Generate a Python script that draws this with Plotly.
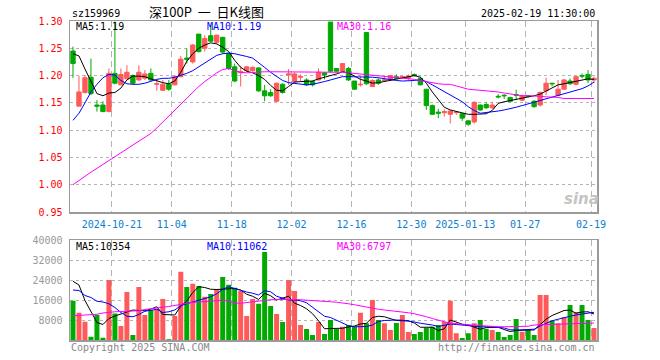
import plotly.graph_objects as go

# ---------------- data ----------------
dates = [
    "2024-10-10", "2024-10-11", "2024-10-14", "2024-10-15", "2024-10-16", "2024-10-17", "2024-10-18",
    "2024-10-21", "2024-10-22", "2024-10-23", "2024-10-24", "2024-10-25", "2024-10-28", "2024-10-29",
    "2024-10-30", "2024-10-31", "2024-11-01", "2024-11-04", "2024-11-05", "2024-11-06", "2024-11-07",
    "2024-11-08", "2024-11-11", "2024-11-12", "2024-11-13", "2024-11-14", "2024-11-15", "2024-11-18",
    "2024-11-19", "2024-11-20", "2024-11-21", "2024-11-22", "2024-11-25", "2024-11-26", "2024-11-27",
    "2024-11-28", "2024-11-29", "2024-12-02", "2024-12-03", "2024-12-04", "2024-12-05", "2024-12-06",
    "2024-12-09", "2024-12-10", "2024-12-11", "2024-12-12", "2024-12-13", "2024-12-16", "2024-12-17",
    "2024-12-18", "2024-12-19", "2024-12-20", "2024-12-23", "2024-12-24", "2024-12-25", "2024-12-26",
    "2024-12-27", "2024-12-30", "2024-12-31", "2025-01-02", "2025-01-03", "2025-01-06", "2025-01-07",
    "2025-01-08", "2025-01-09", "2025-01-10", "2025-01-13", "2025-01-14", "2025-01-15", "2025-01-16",
    "2025-01-17", "2025-01-20", "2025-01-21", "2025-01-22", "2025-01-23", "2025-01-24", "2025-01-27",
    "2025-02-05", "2025-02-06", "2025-02-07", "2025-02-10", "2025-02-11", "2025-02-12", "2025-02-13",
    "2025-02-14", "2025-02-17", "2025-02-18", "2025-02-19",
]

tick_dates = ["2024-10-21", "2024-11-04", "2024-11-18", "2024-12-02", "2024-12-16",
              "2024-12-30", "2025-01-13", "2025-01-27", "2025-02-19"]
tick_labels = ["2024-10-21", "11-04", "11-18", "12-02", "12-16",
               "12-30", "2025-01-13", "01-27", "02-19"]

price_ticks = [0.95, 1.00, 1.05, 1.10, 1.15, 1.20, 1.25, 1.30]
volume_ticks = [8000, 16000, 24000, 32000, 40000]

opens = [
    1.245, 1.144, 1.169, 1.197, 1.146, 1.146, 1.134, 1.204, 1.183, 1.194,
    1.200, 1.192, 1.195, 1.204, 1.184, 1.173, 1.184, 1.183, 1.198, 1.232,
    1.225, 1.276, 1.250, 1.273, 1.261, 1.270, 1.241, 1.216, 1.205, 1.209,
    1.209, 1.214, 1.172, 1.169, 1.153, 1.184, 1.201, 1.189, 1.197, 1.192,
    1.189, 1.192, 1.205, 1.298, 1.213, 1.208, 1.213, 1.190, 1.183, 1.279,
    1.180, 1.192, 1.191, 1.192, 1.198, 1.197, 1.195, 1.202, 1.195, 1.175,
    1.145, 1.133, 1.132, 1.129, 1.132, 1.130, 1.117, 1.115, 1.146, 1.147,
    1.141, 1.162, 1.164, 1.160, 1.165, 1.155, 1.163, 1.153, 1.146, 1.172,
    1.186, 1.164, 1.175, 1.190, 1.184, 1.200, 1.202, 1.192,
]
highs = [
    1.253, 1.199, 1.201, 1.231, 1.155, 1.153, 1.213, 1.299, 1.213, 1.219,
    1.202, 1.219, 1.210, 1.213, 1.192, 1.192, 1.192, 1.201, 1.236, 1.250,
    1.258, 1.276, 1.274, 1.293, 1.275, 1.271, 1.242, 1.222, 1.218, 1.218,
    1.217, 1.215, 1.183, 1.175, 1.187, 1.186, 1.212, 1.206, 1.202, 1.195,
    1.191, 1.213, 1.205, 1.298, 1.214, 1.222, 1.216, 1.190, 1.198, 1.279,
    1.193, 1.195, 1.199, 1.201, 1.202, 1.200, 1.202, 1.204, 1.198, 1.175,
    1.147, 1.139, 1.138, 1.137, 1.134, 1.131, 1.118, 1.153, 1.147, 1.151,
    1.152, 1.166, 1.166, 1.161, 1.174, 1.165, 1.164, 1.155, 1.171, 1.196,
    1.186, 1.192, 1.194, 1.195, 1.199, 1.204, 1.210, 1.198,
]
lows = [
    1.196, 1.144, 1.167, 1.164, 1.134, 1.133, 1.133, 1.184, 1.183, 1.194,
    1.183, 1.190, 1.192, 1.190, 1.172, 1.172, 1.172, 1.182, 1.197, 1.222,
    1.222, 1.242, 1.244, 1.262, 1.258, 1.240, 1.210, 1.188, 1.180, 1.207,
    1.207, 1.170, 1.153, 1.161, 1.152, 1.167, 1.183, 1.186, 1.189, 1.181,
    1.180, 1.191, 1.193, 1.206, 1.207, 1.207, 1.190, 1.174, 1.180, 1.183,
    1.180, 1.183, 1.189, 1.191, 1.194, 1.195, 1.192, 1.198, 1.182, 1.137,
    1.128, 1.122, 1.125, 1.112, 1.128, 1.117, 1.108, 1.112, 1.135, 1.139,
    1.139, 1.158, 1.157, 1.151, 1.155, 1.153, 1.160, 1.141, 1.143, 1.164,
    1.180, 1.164, 1.174, 1.183, 1.182, 1.195, 1.186, 1.186,
]
closes = [
    1.222, 1.170, 1.196, 1.167, 1.144, 1.134, 1.204, 1.186, 1.202, 1.206,
    1.186, 1.206, 1.203, 1.192, 1.185, 1.184, 1.175, 1.198, 1.230, 1.230,
    1.256, 1.244, 1.268, 1.263, 1.274, 1.243, 1.213, 1.190, 1.207, 1.216,
    1.215, 1.172, 1.163, 1.163, 1.186, 1.169, 1.203, 1.203, 1.198, 1.183,
    1.183, 1.206, 1.201, 1.208, 1.208, 1.222, 1.192, 1.175, 1.184, 1.185,
    1.191, 1.186, 1.192, 1.200, 1.195, 1.198, 1.199, 1.200, 1.183, 1.145,
    1.129, 1.131, 1.134, 1.135, 1.133, 1.122, 1.111, 1.151, 1.137, 1.141,
    1.146, 1.161, 1.163, 1.153, 1.164, 1.163, 1.162, 1.143, 1.169, 1.186,
    1.185, 1.175, 1.192, 1.185, 1.198, 1.199, 1.192, 1.195,
]
volumes = [
    15700, 10900, 7300, 1300, 10000, 900, 24000, 10600, 5600, 19200,
    2000, 21200, 10000, 12000, 12400, 16400, 300, 9600, 27300, 21200,
    22500, 21600, 17300, 18400, 20300, 25200, 22100, 20900, 19600, 9600,
    16400, 14500, 35200, 13600, 10400, 7200, 24000, 19600, 6000, 4400,
    2000, 7200, 2400, 8000, 4400, 5300, 6000, 5300, 10900, 6700,
    16000, 8000, 6700, 4000, 6800, 10000, 3200, 2400, 3200, 4900,
    5300, 6000, 7200, 15700, 2700, 800, 2700, 6700, 8000, 4500,
    4000, 3200, 1200, 2000, 8400, 3300, 4000, 2000, 18000, 18000,
    7700, 6700, 9100, 14000, 11200, 14000, 8000, 4800,
]

ma5 = [
    1.240, 1.236, 1.212, 1.188, 1.167, 1.163, 1.168, 1.169, 1.177, 1.192,
    1.199, 1.199, 1.198, 1.194, 1.190, 1.187, 1.185, 1.190, 1.206, 1.226,
    1.240, 1.250, 1.256, 1.260, 1.258, 1.252, 1.244, 1.228, 1.215, 1.208,
    1.205, 1.200, 1.193, 1.182, 1.173, 1.172, 1.180, 1.188, 1.189, 1.189,
    1.190, 1.194, 1.197, 1.199, 1.203, 1.207, 1.205, 1.199, 1.193, 1.190,
    1.186, 1.187, 1.189, 1.192, 1.194, 1.195, 1.197, 1.200, 1.197, 1.186,
    1.170, 1.155, 1.142, 1.137, 1.134, 1.131, 1.129, 1.129, 1.129, 1.130,
    1.136, 1.149, 1.152, 1.154, 1.157, 1.159, 1.161, 1.163, 1.166, 1.172,
    1.178, 1.183, 1.185, 1.187, 1.190, 1.192, 1.194, 1.193,
]
ma10 = [
    1.118, 1.131, 1.150, 1.170, 1.184, 1.196, 1.202, 1.201, 1.191, 1.185,
    1.184, 1.184, 1.186, 1.190, 1.193, 1.195, 1.195, 1.197, 1.200, 1.204,
    1.209, 1.216, 1.223, 1.231, 1.237, 1.240, 1.241, 1.240, 1.238, 1.235,
    1.232, 1.224, 1.215, 1.206, 1.198, 1.191, 1.187, 1.186, 1.185, 1.183,
    1.184, 1.186, 1.189, 1.192, 1.195, 1.198, 1.198, 1.198, 1.198, 1.198,
    1.197, 1.196, 1.194, 1.192, 1.191, 1.190, 1.190, 1.191, 1.192, 1.189,
    1.183, 1.177, 1.171, 1.165, 1.159, 1.152, 1.143, 1.136, 1.131, 1.132,
    1.134, 1.135, 1.137, 1.139, 1.142, 1.145, 1.148, 1.151, 1.155, 1.158,
    1.160, 1.163, 1.166, 1.169, 1.172, 1.176, 1.181, 1.188,
]
ma30 = [
    1.000, 1.008, 1.015, 1.023, 1.030, 1.037, 1.044, 1.051, 1.058, 1.065,
    1.072, 1.079, 1.086, 1.094, 1.104, 1.115, 1.126, 1.137, 1.147, 1.158,
    1.169, 1.180, 1.189, 1.197, 1.205, 1.211, 1.213, 1.209, 1.206, 1.205,
    1.206, 1.206, 1.207, 1.207, 1.207, 1.207, 1.206, 1.206, 1.207, 1.207,
    1.207, 1.207, 1.207, 1.207, 1.207, 1.206, 1.205, 1.204, 1.203, 1.202,
    1.201, 1.199, 1.198, 1.197, 1.196, 1.196, 1.194, 1.193, 1.191, 1.189,
    1.186, 1.185, 1.184, 1.184, 1.181, 1.178, 1.175, 1.174, 1.173, 1.172,
    1.172, 1.170, 1.168, 1.166, 1.164, 1.163, 1.163, 1.163, 1.162, 1.161,
    1.161, 1.160, 1.158, 1.158, 1.158, 1.158, 1.158, 1.158,
]
vma5 = [
    23500, 22000, 15800, 11500, 7000, 6200, 8600, 9600, 10400, 11200,
    12000, 11800, 11700, 12400, 13300, 10200, 10000, 10000, 13500, 15600,
    19000, 21300, 21000, 20300, 20200, 20300, 20700, 20600, 20000, 18300,
    17500, 16200, 18700, 17700, 16000, 16800, 17500, 14700, 13800, 12500,
    10500, 7700, 4500, 4600, 4700, 4700, 5200, 5600, 6400, 6700,
    9000, 9500, 9300, 8600, 7800, 7700, 7700, 6800, 5100, 5100,
    5100, 3800, 4500, 8000, 7000, 6300, 6000, 5000, 4300, 5000,
    5100, 5100, 4200, 3400, 3800, 4000, 4000, 4000, 6000, 8300,
    9800, 10800, 11800, 12000, 10700, 11200, 11300, 10400,
]
vma10 = [
    20000, 19800, 17800, 17000, 15500, 15200, 14500, 13000, 11000, 9500,
    9300, 10200, 11500, 12000, 12300, 11000, 11300, 12000, 13800, 14500,
    15200, 16000, 16600, 17300, 18500, 20300, 21300, 20500, 20000, 19200,
    18700, 18000, 19700, 19300, 17500, 16600, 16000, 16000, 15700, 14900,
    13000, 11300, 9500, 9000, 8000, 7000, 5700, 5300, 5300, 5400,
    6000, 7400, 7800, 8000, 8000, 7900, 7700, 7200, 6700, 6400,
    6000, 5400, 5800, 6400, 6200, 6000, 5700, 5300, 5300, 5300,
    5300, 5100, 4800, 4100, 4000, 4000, 4100, 4300, 5600, 6700,
    7700, 8300, 9000, 9500, 10000, 10400, 10700, 11100,
]
vma30 = [
    9700, 9800, 9900, 10000, 10300, 10800, 11200, 11300, 11400, 11500,
    11600, 11700, 12200, 12600, 12900, 13100, 13400, 13800, 14200, 14900,
    15100, 15200, 15300, 15500, 15700, 16000, 15500, 14800, 14700, 15000,
    15300, 15600, 16000, 16100, 16200, 16300, 16300, 16200, 16100, 16000,
    15800, 15600, 15400, 15300, 15100, 14900, 14500, 14100, 13600, 13200,
    12800, 12300, 12000, 11800, 11500, 11300, 10900, 10500, 10000, 9300,
    8600, 7800, 7300, 6800, 6400, 6300, 6100, 5900, 5700, 5600,
    5500, 5300, 5300, 5300, 5300, 5300, 5500, 6000, 6100, 6200,
    6300, 6400, 6400, 6500, 6500, 6600, 6700, 6800,
]

header_left = "sz159969"
title_text = "深100P\u00a0\u00a0一\u00a0\u00a0日K线图"
header_time = "2025-02-19 11:30:00"
price_ma_labels = ["MA5:1.19", "MA10:1.19", "MA30:1.16"]
volume_ma_labels = ["MA5:10354", "MA10:11062", "MA30:6797"]

# ---------------- styling ----------------
RED = "#ff5a5a"
GREEN = "#00aa00"
MA_COLORS = ["#000000", "#0000ff", "#ff00ff"]
MONO = "DejaVu Sans Mono"
BORDER = "#9a9a9a"
GRID = "#b4b4b4"

W, H = 660, 360
PX0, PX1, PY0, PY1 = 70, 597, 21, 340
PRICE_BOTTOM_PX = 212
VOL_TOP_PX = 240


def px_x(px):
    return (px - PX0) / (PX1 - PX0)


def px_y(py):
    return (PY1 - py) / (PY1 - PY0)


xs = list(range(len(dates)))
tickvals = [dates.index(d) - 0.5 for d in tick_dates]
vol_colors = [RED if c >= o else GREEN for o, c in zip(opens, closes)]

fig = go.Figure()

fig.add_trace(go.Candlestick(
    x=xs, open=opens, high=highs, low=lows, close=closes,
    increasing=dict(line=dict(color=RED, width=1), fillcolor=RED),
    decreasing=dict(line=dict(color=GREEN, width=1), fillcolor=GREEN),
    whiskerwidth=0, hoverinfo="skip", xaxis="x", yaxis="y", showlegend=False,
))
for arr, col in zip([ma5, ma10, ma30], MA_COLORS):
    fig.add_trace(go.Scatter(x=xs, y=arr, mode="lines", line=dict(color=col, width=1),
                             hoverinfo="skip", xaxis="x", yaxis="y", showlegend=False))

fig.add_trace(go.Bar(x=xs, y=volumes, marker=dict(color=vol_colors, line=dict(width=0)),
                     hoverinfo="skip", xaxis="x2", yaxis="y2", showlegend=False))
for arr, col in zip([vma5, vma10, vma30], MA_COLORS):
    fig.add_trace(go.Scatter(x=xs, y=arr, mode="lines", line=dict(color=col, width=1),
                             hoverinfo="skip", xaxis="x2", yaxis="y2", showlegend=False))

axis_common = dict(showline=True, mirror=True, linecolor=BORDER, linewidth=1.5,
                   zeroline=False, ticks="")

fig.update_layout(
    width=W, height=H,
    margin=dict(l=PX0, r=W - PX1, t=PY0, b=H - PY1, pad=0),
    paper_bgcolor="white", plot_bgcolor="white",
    font=dict(family=MONO, size=10, color="#000"),
    bargap=0.17, boxgap=0.15, boxgroupgap=0.15,
    xaxis=dict(
        domain=[0, 1], anchor="y", range=[-0.5, len(dates) - 0.5],
        tickmode="array", tickvals=tickvals, ticktext=tick_labels,
        tickfont=dict(family=MONO, size=10, color="#0a80d0"),
        showgrid=True, gridcolor=GRID, griddash="6px,4px", gridwidth=1,
        rangeslider=dict(visible=False), ticklabelstandoff=2, **axis_common,
    ),
    yaxis=dict(
        domain=[px_y(PRICE_BOTTOM_PX), 1], anchor="x", range=[0.95, 1.30],
        tickmode="array", tickvals=price_ticks, tickformat=".2f",
        tickfont=dict(family=MONO, size=10, color="#ff0000"),
        showgrid=True, gridcolor=GRID, griddash="dot", gridwidth=1,
        ticklabelstandoff=4, **axis_common,
    ),
    xaxis2=dict(
        domain=[0, 1], anchor="y2", matches="x", range=[-0.5, len(dates) - 0.5],
        tickmode="array", tickvals=tickvals, showticklabels=False,
        showgrid=True, gridcolor=GRID, griddash="6px,4px", gridwidth=1,
        **axis_common,
    ),
    yaxis2=dict(
        domain=[0, px_y(VOL_TOP_PX)], anchor="x2", range=[0, 40000],
        tickmode="array", tickvals=volume_ticks, ticktext=[str(v) for v in volume_ticks],
        tickfont=dict(family=MONO, size=10, color="#999999"),
        showgrid=True, gridcolor=GRID, griddash="dot", gridwidth=1,
        ticklabelstandoff=4, **axis_common,
    ),
)

ann = []


def text(s, x, y, color="#000", anchor="left", size=10, family=MONO):
    ann.append(dict(text=s, x=px_x(x), y=px_y(y), xref="paper", yref="paper",
                    xanchor=anchor, yanchor="middle", showarrow=False,
                    font=dict(family=family, size=size, color=color)))


text(header_left, 70, 13)
text(title_text, 206, 11, anchor="center", size=13, family="Noto Sans CJK SC")
text(header_time, 597, 13, anchor="right")
for lab, col, x in zip(price_ma_labels, MA_COLORS, [74, 205, 335]):
    text(lab, x, 27, color=col)
for lab, col, x in zip(volume_ma_labels, MA_COLORS, [74, 205, 335]):
    text(lab, x, 246, color=col)
text("Copyright 2025 SINA.COM", 69, 347, color="#888888")
text("http://finance.sina.com.cn", 597, 347, color="#888888", anchor="right")
text("<b><i>sina</i></b>", 581, 199, color="#c4c4c4", anchor="center", size=15, family="DejaVu Sans")

fig.update_layout(annotations=ann)
fig.write_html("out.html",
               config={"displayModeBar": False, "staticPlot": True},
               post_script="document.body.style.margin='0';document.body.style.padding='0';")
